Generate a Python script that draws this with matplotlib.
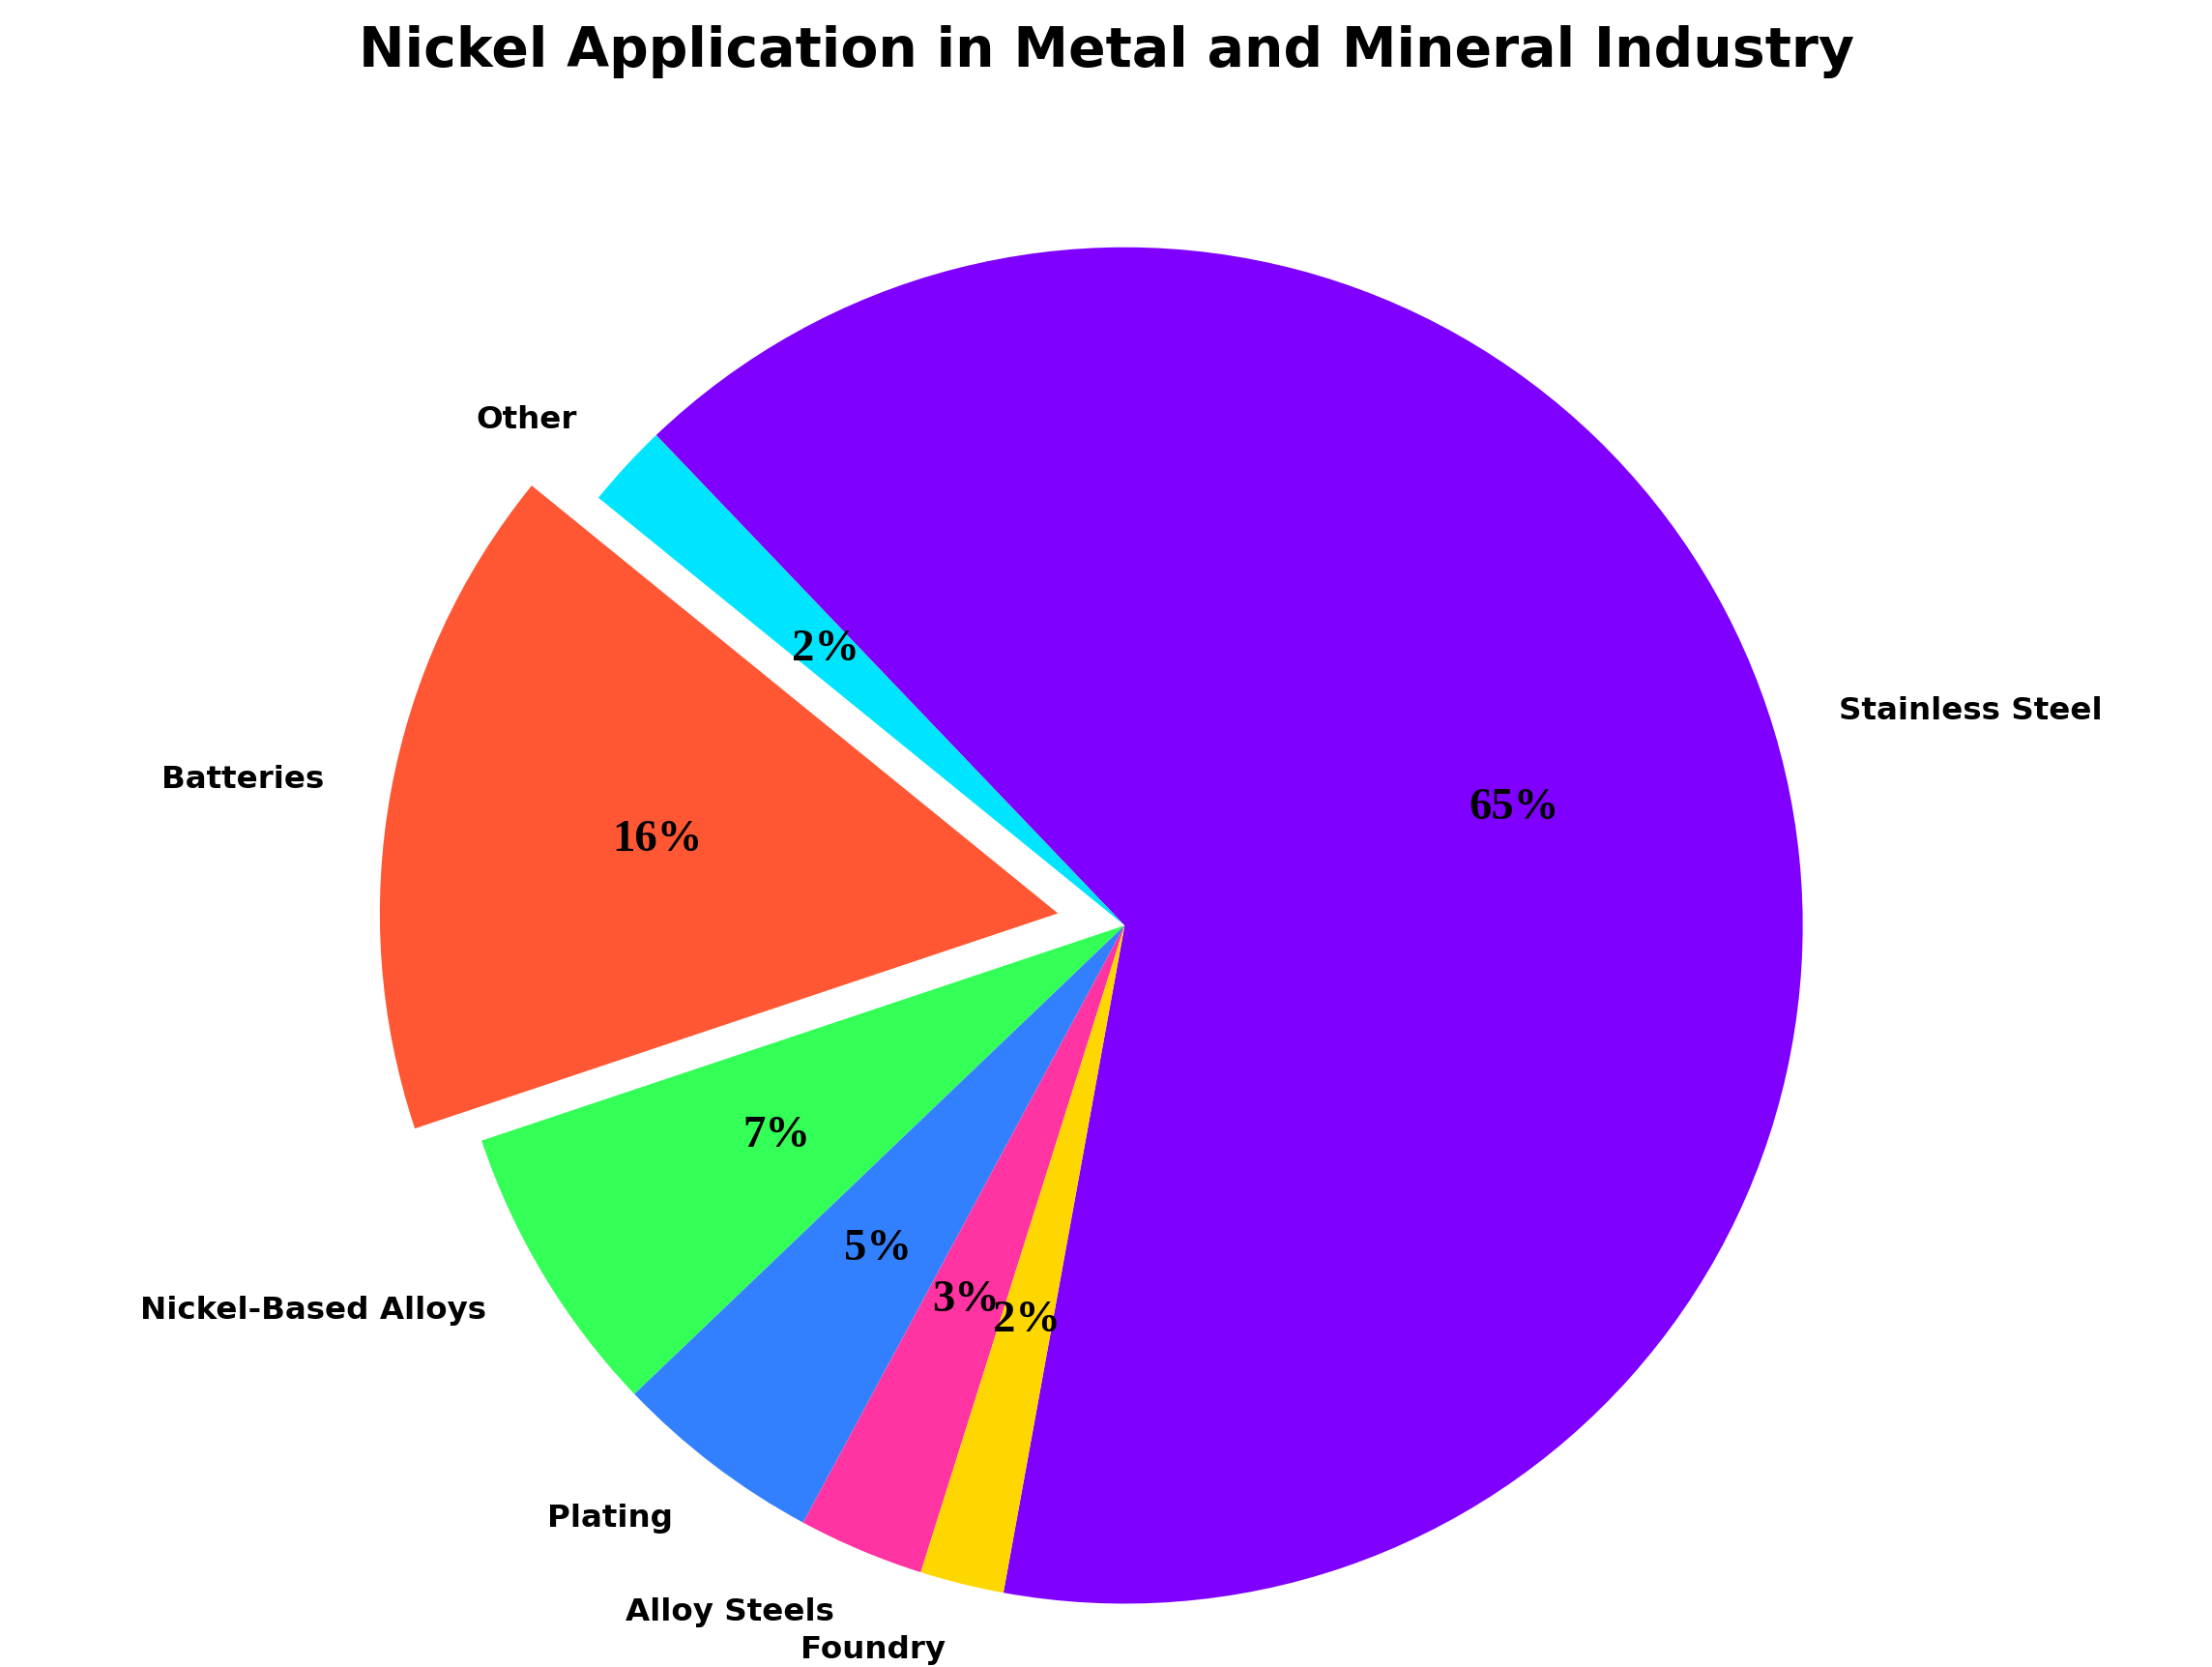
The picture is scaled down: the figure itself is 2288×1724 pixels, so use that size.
import matplotlib.pyplot as plt

categories = ["Stainless Steel", "Other", "Batteries", "Nickel-Based Alloys",
              "Plating", "Alloy Steels", "Foundry"]
shares = [65, 2, 16, 7, 5, 3, 2]
explode = [0, 0, 0.1, 0, 0, 0, 0]
colors = ["#7F00FF", "#00E5FF", "#FF5733", "#33FF57", "#3380FF", "#FF33A1", "#FFD700"]

fig = plt.figure(figsize=(15.64, 11.785), dpi=146.3)
ax = fig.add_axes([0.2014, 0.038, 0.614, 0.8136])

wedges, texts, autotexts = ax.pie(
    shares,
    labels=categories,
    explode=explode,
    colors=colors,
    startangle=-100.3,
    autopct="%1.0f%%",
    pctdistance=0.6,
    labeldistance=1.1,
    textprops={"fontsize": 16, "fontweight": "bold", "fontfamily": "DejaVu Sans"},
)
for w in wedges:
    w.set_clip_on(False)
for t in texts:
    t.set_clip_on(False)
for t in autotexts:
    t.set_fontfamily("Liberation Serif")
    t.set_fontsize(23)
    t.set_fontweight("bold")

ax.set_xlim(-1, 1)
ax.set_ylim(-1, 1)

fig.suptitle("Nickel Application in Metal and Mineral Industry",
             fontsize=28, fontweight="bold", y=0.985)

fig.savefig("out.png", dpi=146.3)
